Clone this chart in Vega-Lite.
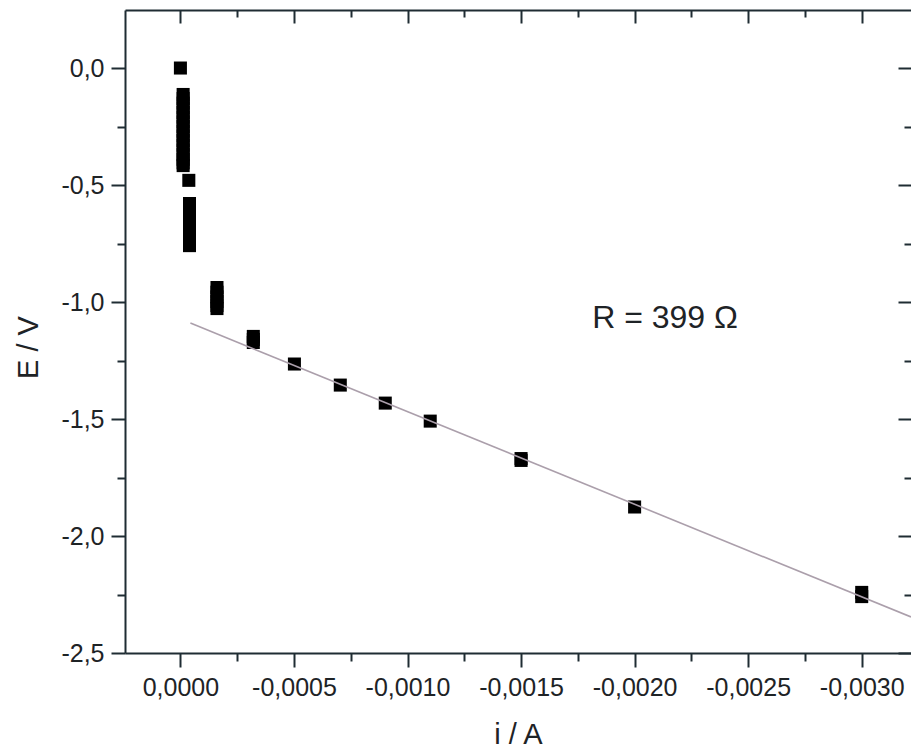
{
  "$schema": "https://vega.github.io/schema/vega-lite/v6.json",
  "autosize": {"type": "none"},
  "padding": {"left": 125, "top": 10, "right": 0, "bottom": 96},
  "width": 786,
  "height": 643,
  "background": "white",
  "config": {
    "locale": {"number": {"decimal": ",", "thousands": ".", "grouping": [3], "currency": ["", ""], "minus": "-"}},
    "view": {"stroke": null},
    "axis": {
      "grid": false,
      "domainColor": "#1f2c33",
      "domainWidth": 2,
      "tickColor": "#1f2c33",
      "tickWidth": 2,
      "labelFont": "Liberation Sans",
      "labelFontSize": 25,
      "labelColor": "#1e2326",
      "titleFont": "Liberation Sans",
      "titleFontSize": 29,
      "titleFontWeight": "normal",
      "titleColor": "#1e2326"
    }
  },
  "datasets": {
    "measured": [
      {"i": 0.0, "E": 0.0},
      {"i": -0.000012, "E": -0.113},
      {"i": -0.000012, "E": -0.13},
      {"i": -0.000012, "E": -0.15},
      {"i": -0.000012, "E": -0.17},
      {"i": -0.000012, "E": -0.19},
      {"i": -0.000012, "E": -0.21},
      {"i": -0.000012, "E": -0.23},
      {"i": -0.000012, "E": -0.25},
      {"i": -0.000012, "E": -0.27},
      {"i": -0.000012, "E": -0.29},
      {"i": -0.000012, "E": -0.31},
      {"i": -0.000012, "E": -0.33},
      {"i": -0.000012, "E": -0.35},
      {"i": -0.000012, "E": -0.37},
      {"i": -0.000012, "E": -0.39},
      {"i": -0.000012, "E": -0.405},
      {"i": -0.000012, "E": -0.417},
      {"i": -0.000037, "E": -0.48},
      {"i": -0.00004, "E": -0.579},
      {"i": -0.00004, "E": -0.615},
      {"i": -0.00004, "E": -0.635},
      {"i": -0.00004, "E": -0.655},
      {"i": -0.00004, "E": -0.675},
      {"i": -0.00004, "E": -0.695},
      {"i": -0.00004, "E": -0.715},
      {"i": -0.00004, "E": -0.735},
      {"i": -0.00004, "E": -0.759},
      {"i": -0.000161, "E": -0.938},
      {"i": -0.000161, "E": -0.958},
      {"i": -0.000161, "E": -0.978},
      {"i": -0.000161, "E": -0.998},
      {"i": -0.000161, "E": -1.015},
      {"i": -0.000161, "E": -1.028},
      {"i": -0.000321, "E": -1.147},
      {"i": -0.000321, "E": -1.16},
      {"i": -0.000321, "E": -1.173},
      {"i": -0.000502, "E": -1.265},
      {"i": -0.000704, "E": -1.355},
      {"i": -0.000902, "E": -1.432},
      {"i": -0.0011, "E": -1.509},
      {"i": -0.0015, "E": -1.669},
      {"i": -0.0015, "E": -1.677},
      {"i": -0.002, "E": -1.876},
      {"i": -0.003, "E": -2.241},
      {"i": -0.003, "E": -2.259}
    ],
    "fit": [
      {"i": -0.000044, "E": -1.09},
      {"i": -0.003217, "E": -2.346}
    ],
    "note": [
      {"i": -0.001813, "E": -1.068, "label": "R = 399 Ω"}
    ]
  },
  "resolve": {"axis": {"x": "independent", "y": "independent"}},
  "layer": [
    {
      "data": {"name": "measured"},
      "mark": {"type": "square", "size": 170, "color": "#000000", "opacity": 1},
      "encoding": {
        "x": {
          "field": "i", "type": "quantitative",
          "scale": {"domain": [0.000244, -0.003217], "nice": false, "zero": false},
          "axis": {
            "orient": "bottom",
            "title": "i / A",
            "values": [0, -0.00025, -0.0005, -0.00075, -0.001, -0.00125, -0.0015, -0.00175, -0.002, -0.00225, -0.0025, -0.00275, -0.003],
            "format": ".4f",
            "labelExpr": "round(datum.value*4000) % 2 != 0 ? '' : datum.label",
            "tickSize": {"condition": {"test": "round(datum.value*4000) % 2 != 0", "value": 8}, "value": 14},
            "labelPadding": 8,
            "labelFlush": false,
            "titleBaseline": "alphabetic",
            "titleY": 90
          }
        },
        "y": {
          "field": "E", "type": "quantitative",
          "scale": {"domain": [-2.5, 0.248], "nice": false, "zero": false},
          "axis": {
            "orient": "left",
            "title": "E / V",
            "values": [0, -0.25, -0.5, -0.75, -1, -1.25, -1.5, -1.75, -2, -2.25, -2.5],
            "format": ".1f",
            "labelExpr": "round(datum.value*4) % 2 != 0 ? '' : datum.label",
            "tickSize": {"condition": {"test": "round(datum.value*4) % 2 != 0", "value": 8}, "value": 14},
            "labelPadding": 7,
            "labelFlush": false,
            "titleBaseline": "alphabetic",
            "titleX": -88,
            "titleY": 337
          }
        }
      }
    },
    {
      "data": {"name": "fit"},
      "mark": {"type": "line", "color": "#ab9fab", "strokeWidth": 1.6, "clip": true},
      "encoding": {
        "x": {
          "field": "i", "type": "quantitative",
          "axis": {
            "orient": "top",
            "title": null,
            "labels": false,
            "values": [0, -0.00025, -0.0005, -0.00075, -0.001, -0.00125, -0.0015, -0.00175, -0.002, -0.00225, -0.0025, -0.00275, -0.003],
            "tickSize": {"condition": {"test": "round(datum.value*4000) % 2 != 0", "value": -7}, "value": -13}
          }
        },
        "y": {
          "field": "E", "type": "quantitative",
          "axis": {
            "orient": "right",
            "title": null,
            "labels": false,
            "domain": false,
            "values": [0, -0.25, -0.5, -0.75, -1, -1.25, -1.5, -1.75, -2, -2.25, -2.5],
            "tickSize": {"condition": {"test": "round(datum.value*4) % 2 != 0", "value": -7}, "value": -13}
          }
        }
      }
    },
    {
      "data": {"name": "note"},
      "mark": {"type": "text", "align": "left", "baseline": "middle", "font": "Liberation Sans", "fontSize": 32, "color": "#1e2326"},
      "encoding": {
        "x": {"field": "i", "type": "quantitative", "axis": null},
        "y": {"field": "E", "type": "quantitative", "axis": null},
        "text": {"field": "label"}
      }
    }
  ]
}
